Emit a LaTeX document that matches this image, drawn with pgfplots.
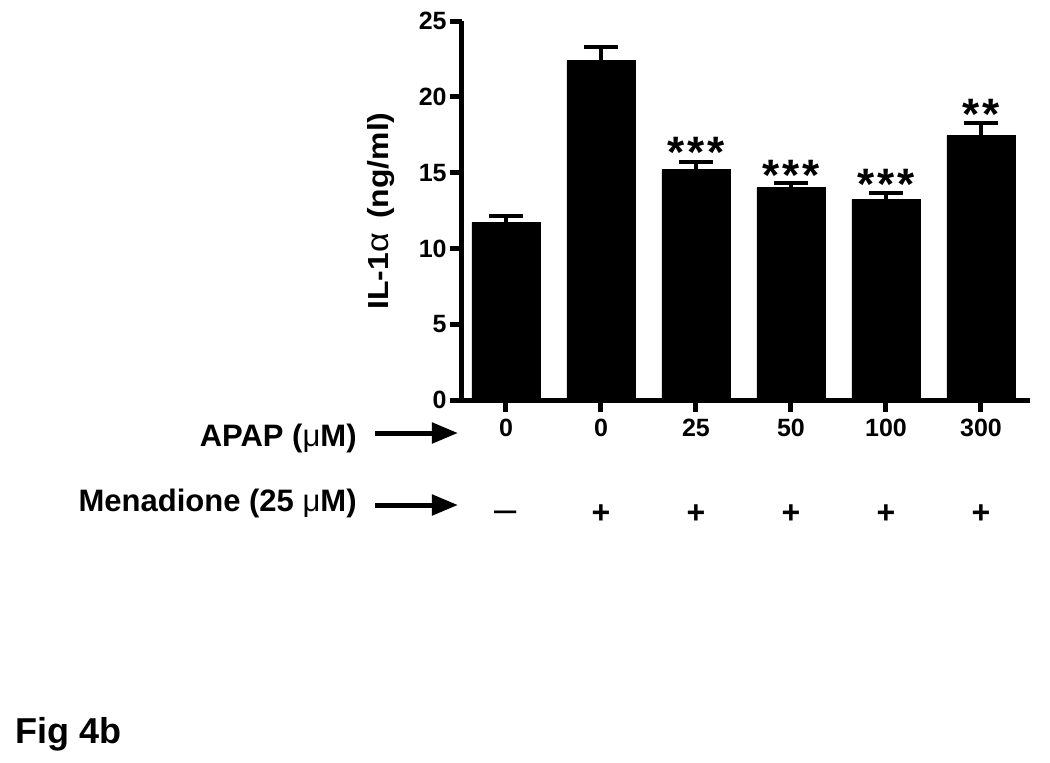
\documentclass[border=0pt]{standalone}
\usepackage{fontspec}
\setmainfont{Liberation Sans}
\usepackage{pgfplots}
\pgfplotsset{compat=1.18}
\usetikzlibrary{arrows.meta}

\begin{document}
\begin{tikzpicture}
\useasboundingbox (-231pt,-181pt) rectangle (294pt,200pt);
\begin{axis}[
  at={(0,0)}, anchor=south west,
  scale only axis, width=284pt, height=189.5pt,
  xmin=-0.463, xmax=5.516, ymin=0, ymax=25,
  axis x line*=bottom, axis y line*=left,
  axis line style={line width=2.5pt, black},
  ytick={0,5,10,15,20,25},
  xtick={0,1,2,3,4,5}, xticklabels={0,0,25,50,100,300},
  tick align=outside, major tick length=6pt,
  tick style={line width=2.5pt, black},
  ticklabel style={font=\fontsize{12.5}{14}\selectfont\bfseries},
  yticklabel style={inner xsep=1.5pt},
  /pgf/number format/assume math mode=true,
  clip=false,
]
\addplot[ybar, bar width=34pt, fill=black, draw=black,
  error bars/.cd, y dir=plus, y explicit,
  error bar style={line width=2pt, black},
  error mark options={rotate=90, mark size=8.5pt, line width=2pt, black}]
  coordinates {
  (0,11.7)  +- (0,0.45)
  (1,22.4)  +- (0,0.9)
  (2,15.2)  +- (0,0.5)
  (3,14.0)  +- (0,0.3)
  (4,13.25) +- (0,0.4)
  (5,17.45) +- (0,0.8)
  };
\addplot[draw=none, mark=none, nodes near coords, point meta=explicit symbolic,
  every node near coord/.append style={anchor=center, inner sep=0pt,
  font=\fontsize{22}{22}\selectfont\bfseries}]
  coordinates {(2,16.35)[*\kern1.5pt*\kern1.5pt*] (3,14.8)[*\kern1.5pt*\kern1.5pt*] (4,14.25)[*\kern1.5pt*\kern1.5pt*] (5,18.85)[*\kern1.5pt*]};
\node[font=\fontsize{20}{20}\selectfont] at (axis cs:0,0) [yshift=-58.5pt] {–};
\node[font=\fontsize{16}{16}\selectfont\bfseries] at (axis cs:1,0) [yshift=-57pt] {+};
\node[font=\fontsize{16}{16}\selectfont\bfseries] at (axis cs:2,0) [yshift=-57pt] {+};
\node[font=\fontsize{16}{16}\selectfont\bfseries] at (axis cs:3,0) [yshift=-57pt] {+};
\node[font=\fontsize{16}{16}\selectfont\bfseries] at (axis cs:4,0) [yshift=-57pt] {+};
\node[font=\fontsize{16}{16}\selectfont\bfseries] at (axis cs:5,0) [yshift=-57pt] {+};
\end{axis}
\node[rotate=90, xscale=1.1, font=\fontsize{14.5}{16}\selectfont\bfseries] at (-40.25pt,94.5pt)
  {IL-1{\mdseries\fontsize{15.5}{16}\selectfont α}\hspace{0.45em}(ng/ml)};
\node[anchor=base east, inner sep=0pt, font=\fontsize{15.5}{17}\selectfont\bfseries]
  at (-52.5pt,-23.3pt) {APAP ({\mdseries μ}M)};
\node[anchor=base east, inner sep=0pt, font=\fontsize{15.5}{17}\selectfont\bfseries]
  at (-52.5pt,-55.5pt) {Menadione (25 {\mdseries μ}M)};
\draw[line width=2.5pt, -{Triangle[length=13pt, width=10pt]}] (-43.5pt,-16.5pt) -- (-2pt,-16.5pt);
\draw[line width=2.5pt, -{Triangle[length=13pt, width=10pt]}] (-43.5pt,-52.5pt) -- (-2pt,-52.5pt);
\node[anchor=base west, inner sep=0pt, font=\fontsize{18}{20}\selectfont\bfseries]
  at (-223.5pt,-171.5pt) {Fig 4b};
\end{tikzpicture}
\end{document}
